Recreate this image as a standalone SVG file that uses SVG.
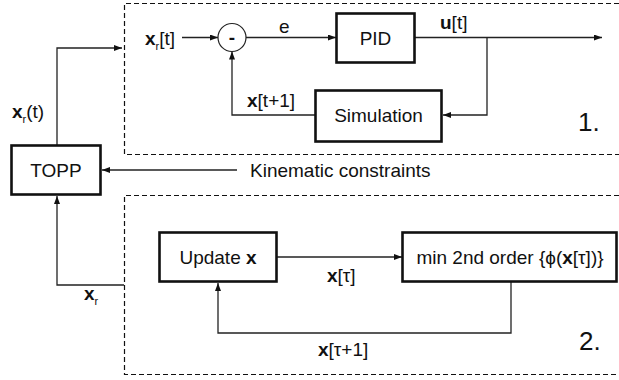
<svg xmlns="http://www.w3.org/2000/svg" width="619" height="380" viewBox="0 0 619 380">
<defs>
<marker id="arr" markerWidth="8" markerHeight="6" refX="8" refY="3" orient="auto" markerUnits="userSpaceOnUse">
<path d="M0,0 L8,3 L0,6 Z" fill="#111"/>
</marker>
<style>
text{font-family:"Liberation Sans",Arial,sans-serif;font-size:19px;fill:#111}
.b{font-weight:bold}
.sub{font-size:11px}
.big{font-size:26px}
.box{fill:#fff;stroke:#111;stroke-width:2.6}
.dash{fill:none;stroke:#111;stroke-width:1.2;stroke-dasharray:5 3}
.c{fill:none;stroke:#222;stroke-width:1.3}
.ca{fill:none;stroke:#222;stroke-width:1.3;marker-end:url(#arr)}
</style>
</defs>
<rect width="619" height="380" fill="#fff"/>

<g id="regions">
<path class="dash" d="M619,3.5 H124.5 V154.5 H619"/>
<path class="dash" d="M619,195.5 H124.5 V374.5 H619"/>
</g>

<g id="connectors">
<path class="ca" d="M57,145 V48 H122"/>
<path class="ca" d="M237,170 H102"/>
<path class="ca" d="M182,37.5 H218"/>
<path class="ca" d="M246,37.5 H336"/>
<path class="ca" d="M415,37.5 H602"/>
<path class="ca" d="M487,37.5 V115 H443"/>
<path class="ca" d="M315,115 H232 V51.5"/>
<path class="ca" d="M277,257 H402"/>
<path class="ca" d="M511,282 V333 H218 V283"/>
<path class="ca" d="M124,285 H57 V196"/>
</g>

<g id="topp">
<rect class="box" x="11.5" y="145.5" width="89" height="49"/>
<text x="56" y="176.5" text-anchor="middle">TOPP</text>
</g>

<g id="sum">
<circle cx="232" cy="37.5" r="14" fill="#fff" stroke="#222" stroke-width="1.2"/>
<text x="232" y="43.5" text-anchor="middle" class="b">-</text>
</g>

<g id="pid">
<rect class="box" x="336.5" y="13.5" width="78" height="49"/>
<text x="375.5" y="44.5" text-anchor="middle">PID</text>
</g>

<g id="simulation">
<rect class="box" x="315.5" y="90.5" width="126" height="51"/>
<text x="378.5" y="122" text-anchor="middle">Simulation</text>
</g>

<g id="update">
<rect class="box" x="159.5" y="232.5" width="117" height="49"/>
<text x="218" y="263.5" text-anchor="middle">Update <tspan class="b">x</tspan></text>
</g>

<g id="minimize">
<rect class="box" x="402.5" y="232.5" width="214" height="49"/>
<text x="510" y="263.5" text-anchor="middle">min 2nd order {ϕ(<tspan class="b">x</tspan>[τ])}</text>
</g>

<g id="labels">
<text x="12" y="118"><tspan class="b">x</tspan><tspan class="sub" dy="5">r</tspan><tspan dy="-5">(t)</tspan></text>
<text x="145" y="45"><tspan class="b">x</tspan><tspan class="sub" dy="5">r</tspan><tspan dy="-5">[t]</tspan></text>
<text x="279" y="33">e</text>
<text x="440" y="29"><tspan class="b">u</tspan>[t]</text>
<text x="247" y="107"><tspan class="b">x</tspan>[t+1]</text>
<text x="250" y="177">Kinematic constraints</text>
<text x="578" y="131" class="big">1.</text>
<text x="327" y="282"><tspan class="b">x</tspan>[τ]</text>
<text x="318" y="356"><tspan class="b">x</tspan>[τ+1]</text>
<text x="84" y="300"><tspan class="b">x</tspan><tspan class="sub" dy="5">r</tspan></text>
<text x="579" y="350" class="big">2.</text>
</g>
</svg>
